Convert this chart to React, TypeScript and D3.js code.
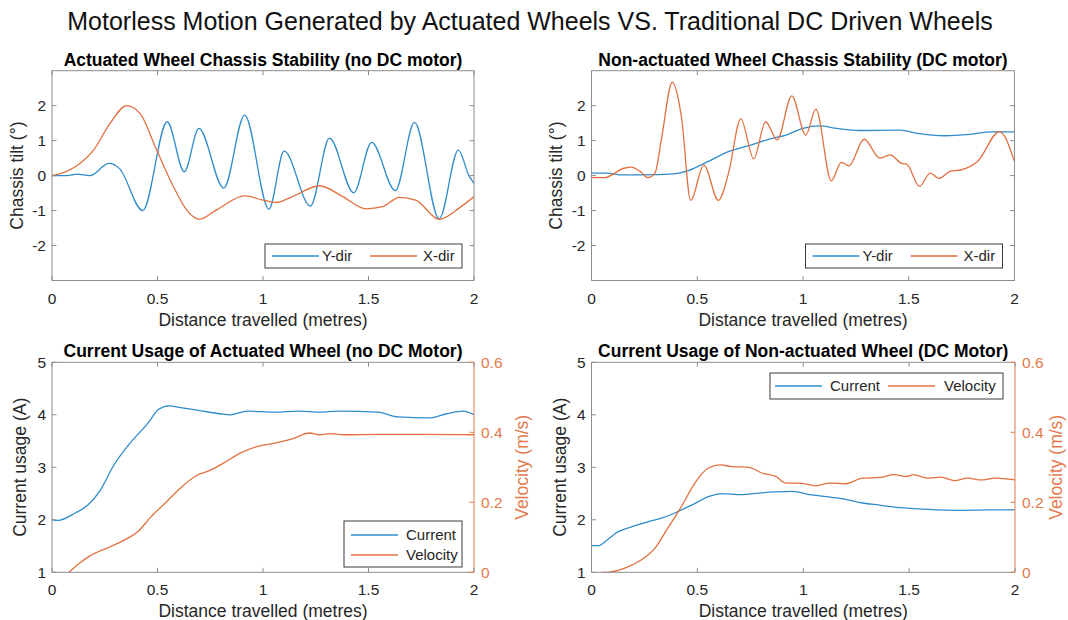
import React from 'react';
import * as d3 from 'd3';

// ---------- DATA ----------
const xTickValues = [0, 0.5, 1, 1.5, 2];
const xTickLabels = ['0', '0.5', '1', '1.5', '2'];
const tiltTicks = [-2, -1, 0, 1, 2];
const currentTicks = [1, 2, 3, 4, 5];
const velocityTicks = [0, 0.2, 0.4, 0.6];

// Panel 1: Actuated wheel chassis stability
const p1YDirDist = [0, 0.07, 0.12, 0.18, 0.27, 0.32, 0.43, 0.546, 0.627, 0.696, 0.814, 0.913, 1.028, 1.10, 1.225, 1.315, 1.43, 1.515, 1.627, 1.718, 1.835, 1.926, 1.976, 2.0];
const p1YDirTilt = [0, 0.0, 0.04, 0.0, 0.35, 0.2, -1.0, 1.54, 0.11, 1.35, -0.36, 1.73, -0.96, 0.70, -0.87, 1.07, -0.49, 0.95, -0.43, 1.52, -1.24, 0.73, 0.0, -0.22];
const p1XDirDist = [0, 0.134, 0.197, 0.276, 0.354, 0.417, 0.496, 0.575, 0.638, 0.698, 0.78, 0.913, 1.0, 1.063, 1.14, 1.268, 1.378, 1.488, 1.567, 1.646, 1.724, 1.835, 1.929, 2.0];
const p1XDirTilt = [0, 0.35, 0.73, 1.5, 2.0, 1.78, 0.73, -0.31, -0.98, -1.25, -0.98, -0.58, -0.7, -0.77, -0.6, -0.29, -0.6, -0.95, -0.89, -0.62, -0.7, -1.25, -0.93, -0.6];

// Panel 2: Non-actuated wheel chassis stability
const p2YDirDist = [0, 0.07, 0.15, 0.24, 0.39, 0.457, 0.55, 0.65, 0.74, 0.84, 0.92, 1.0, 1.08, 1.16, 1.27, 1.46, 1.54, 1.67, 1.79, 1.89, 2.0];
const p2YDirTilt = [0.07, 0.07, 0.02, 0.02, 0.05, 0.14, 0.4, 0.69, 0.85, 1.04, 1.16, 1.35, 1.42, 1.35, 1.29, 1.3, 1.21, 1.14, 1.18, 1.25, 1.25];
const p2XDirDist = [0, 0.06, 0.154, 0.186, 0.234, 0.266, 0.3, 0.33, 0.382, 0.425, 0.469, 0.531, 0.6, 0.648, 0.706, 0.767, 0.823, 0.878, 0.947, 1.013, 1.061, 1.134, 1.181, 1.217, 1.289, 1.363, 1.411, 1.467, 1.49, 1.551, 1.602, 1.642, 1.698, 1.745, 1.825, 1.929, 2.0];
const p2XDirTilt = [-0.06, -0.06, 0.21, 0.24, 0.1, -0.06, 0.07, 1.02, 2.67, 1.69, -0.71, 0.3, -0.71, 0.07, 1.62, 0.48, 1.54, 1.02, 2.28, 1.16, 1.9, -0.15, 0.38, 0.28, 1.04, 0.5, 0.59, 0.35, 0.33, -0.31, 0.07, -0.08, 0.13, 0.16, 0.4, 1.26, 0.4];

// Panel 3: Current usage of actuated wheel
const p3CurDist = [0, 0.03, 0.11, 0.17, 0.23, 0.29, 0.37, 0.455, 0.504, 0.553, 0.618, 0.7, 0.797, 0.845, 0.927, 1.057, 1.17, 1.27, 1.35, 1.545, 1.64, 1.79, 1.87, 1.95, 2.0];
const p3Current = [2.0, 1.99, 2.13, 2.28, 2.57, 3.02, 3.46, 3.84, 4.1, 4.17, 4.13, 4.08, 4.02, 4.0, 4.07, 4.05, 4.07, 4.05, 4.07, 4.05, 3.96, 3.94, 4.02, 4.07, 4.0];
const p3VelDist = [0.08, 0.13, 0.18, 0.276, 0.358, 0.406, 0.47, 0.537, 0.6, 0.683, 0.748, 0.813, 0.894, 0.976, 1.057, 1.138, 1.22, 1.268, 1.32, 1.382, 1.55, 1.75, 2.0];
const p3Velocity = [0, 0.026, 0.047, 0.073, 0.097, 0.116, 0.159, 0.198, 0.236, 0.276, 0.291, 0.312, 0.341, 0.36, 0.369, 0.381, 0.398, 0.393, 0.396, 0.393, 0.394, 0.394, 0.393];

// Panel 4: Current usage of non-actuated wheel
const p4CurDist = [0, 0.035, 0.075, 0.12, 0.186, 0.266, 0.33, 0.393, 0.473, 0.552, 0.616, 0.711, 0.79, 0.87, 0.95, 1.03, 1.11, 1.2, 1.28, 1.36, 1.46, 1.586, 1.745, 1.87, 2.0];
const p4Current = [1.51, 1.51, 1.62, 1.76, 1.86, 1.96, 2.03, 2.13, 2.28, 2.44, 2.5, 2.48, 2.51, 2.53, 2.54, 2.48, 2.44, 2.39, 2.32, 2.28, 2.23, 2.2, 2.18, 2.19, 2.19];
const p4VelDist = [0.05, 0.075, 0.154, 0.234, 0.3, 0.36, 0.425, 0.488, 0.552, 0.608, 0.663, 0.743, 0.807, 0.87, 0.918, 0.98, 1.06, 1.125, 1.2, 1.28, 1.364, 1.427, 1.49, 1.52, 1.586, 1.65, 1.714, 1.777, 1.84, 1.905, 2.0];
const p4Velocity = [0, 0, 0.011, 0.035, 0.069, 0.126, 0.188, 0.255, 0.298, 0.307, 0.302, 0.3, 0.283, 0.274, 0.255, 0.255, 0.247, 0.255, 0.253, 0.269, 0.271, 0.279, 0.274, 0.279, 0.269, 0.272, 0.262, 0.269, 0.264, 0.269, 0.264];

// ---------- STYLE ----------
const FONT = "'Liberation Sans', Arial, Helvetica, sans-serif";
const BLUE = '#2f8ccb';
const ORANGE = '#e2703f';
const ORANGE_AXIS = '#e27a4c';
const AXIS = '#8c8c8c';
const TXT = '#262626';
const TICK = 4.5;

type Series = { xs: number[]; ys: number[]; color: string; right?: boolean };
type Box = { l: number; r: number; t: number; b: number };
type LegendSpec = {
  x: number; y: number; w: number; h: number;
  items: { label: string; color: string; lx: number; ly: number; tx: number }[];
};

function Panel(props: {
  id: string; box: Box; title: string; yLabel: string; yLabelX: number;
  yDomain: [number, number]; yTicks: number[];
  series: Series[]; legend: LegendSpec;
  rightAxis?: { domain: [number, number]; ticks: number[]; label: string; labelX: number };
}) {
  const { id, box, title, yLabel, yLabelX, yDomain, yTicks, series, legend, rightAxis } = props;
  const { l, r, t, b } = box;
  const x = d3.scaleLinear().domain([0, 2]).range([l, r]);
  const y = d3.scaleLinear().domain(yDomain).range([b, t]);
  const yR = rightAxis ? d3.scaleLinear().domain(rightAxis.domain).range([b, t]) : null;
  const mk = (s: Series) => {
    const sc = s.right && yR ? yR : y;
    return d3.line<number>().x((_, i) => x(s.xs[i])).y((d) => sc(d)).curve(d3.curveMonotoneX)(s.ys) || '';
  };
  const cy = (t + b) / 2;
  return (
    <g>
      <defs>
        <clipPath id={id}>
          <rect x={l} y={t} width={r - l} height={b - t} />
        </clipPath>
      </defs>
      <rect x={l} y={t} width={r - l} height={b - t} fill="#fff" />
      <g clipPath={`url(#${id})`}>
        {series.map((s, i) => (
          <path key={i} d={mk(s)} fill="none" stroke={s.color} strokeWidth={1.3} strokeLinejoin="round" />
        ))}
      </g>
      <line x1={l} x2={r} y1={t} y2={t} stroke={AXIS} />
      <line x1={l} x2={r} y1={b} y2={b} stroke={AXIS} />
      <line x1={l} x2={l} y1={t} y2={b} stroke={AXIS} />
      <line x1={r} x2={r} y1={t} y2={b} stroke={rightAxis ? ORANGE_AXIS : AXIS} />
      {xTickValues.map((v, i) => (
        <g key={'x' + i}>
          <line x1={x(v)} x2={x(v)} y1={b} y2={b - TICK} stroke={AXIS} />
          <line x1={x(v)} x2={x(v)} y1={t} y2={t + TICK} stroke={AXIS} />
          <text x={x(v)} y={b + 23} textAnchor="middle" fontSize={15.5} fill={TXT}>{xTickLabels[i]}</text>
        </g>
      ))}
      {yTicks.map((v) => (
        <g key={'y' + v}>
          <line x1={l} x2={l + TICK} y1={y(v)} y2={y(v)} stroke={AXIS} />
          {!rightAxis && <line x1={r} x2={r - TICK} y1={y(v)} y2={y(v)} stroke={AXIS} />}
          <text x={l - 6} y={y(v) + 5.5} textAnchor="end" fontSize={15.5} fill={TXT}>{String(v)}</text>
        </g>
      ))}
      {rightAxis && yR && rightAxis.ticks.map((v) => (
        <g key={'r' + v}>
          <line x1={r} x2={r - TICK} y1={yR(v)} y2={yR(v)} stroke={ORANGE_AXIS} />
          <text x={r + 7} y={yR(v) + 5.5} textAnchor="start" fontSize={15.5} fill={ORANGE_AXIS}>{String(v)}</text>
        </g>
      ))}
      {rightAxis && (
        <text transform={`translate(${rightAxis.labelX},${cy}) rotate(-90)`} textAnchor="middle" fontSize={17.5} fill={ORANGE_AXIS}>
          {rightAxis.label}
        </text>
      )}
      <text x={(l + r) / 2} y={b + 45} textAnchor="middle" fontSize={17.5} fill={TXT}>Distance travelled (metres)</text>
      <text transform={`translate(${yLabelX},${cy}) rotate(-90)`} textAnchor="middle" fontSize={17.5} fill={TXT}>{yLabel}</text>
      <text x={(l + r) / 2} y={t - 5} textAnchor="middle" fontSize={17.5} fontWeight="bold" fill="#000">{title}</text>
      <g>
        <rect x={legend.x} y={legend.y} width={legend.w} height={legend.h} fill="#fff" stroke="#3a3a3a" strokeWidth={1} />
        {legend.items.map((it, i) => (
          <g key={i}>
            <line x1={legend.x + it.lx} x2={legend.x + it.lx + 47} y1={legend.y + it.ly} y2={legend.y + it.ly} stroke={it.color} strokeWidth={1.3} />
            <text x={legend.x + it.tx} y={legend.y + it.ly + 5} fontSize={15} fill={TXT}>{it.label}</text>
          </g>
        ))}
      </g>
    </g>
  );
}

export default function App() {
  const b1: Box = { l: 52, r: 474, t: 70.7, b: 280.5 };
  const b2: Box = { l: 591.5, r: 1014.5, t: 70.7, b: 280.5 };
  const b3: Box = { l: 52, r: 474, t: 362.3, b: 572.3 };
  const b4: Box = { l: 591.5, r: 1015, t: 362.3, b: 572.3 };
  const horizLegend = (bx: Box): LegendSpec => ({
    x: bx.r - 209, y: bx.b - 36.5, w: 197, h: 24,
    items: [
      { label: 'Y-dir', color: BLUE, lx: 7, ly: 12, tx: 57 },
      { label: 'X-dir', color: ORANGE, lx: 105, ly: 12, tx: 158 },
    ],
  });
  return (
    <svg width={1068} height={620} style={{ position: 'absolute', left: 0, top: 0, background: '#fff' }} fontFamily={FONT}>
      <rect x={0} y={0} width={1068} height={620} fill="#fff" />
      <text x={530} y={30} textAnchor="middle" fontSize={25} fill="#111">
        Motorless Motion Generated by Actuated Wheels VS. Traditional DC Driven Wheels
      </text>
      <Panel
        id="c1" box={b1} title="Actuated Wheel Chassis Stability (no DC motor)" yLabel="Chassis tilt (°)" yLabelX={23}
        yDomain={[-3, 3]} yTicks={tiltTicks}
        series={[
          { xs: p1YDirDist, ys: p1YDirTilt, color: BLUE },
          { xs: p1XDirDist, ys: p1XDirTilt, color: ORANGE },
        ]}
        legend={horizLegend(b1)}
      />
      <Panel
        id="c2" box={b2} title="Non-actuated Wheel Chassis Stability (DC motor)" yLabel="Chassis tilt (°)" yLabelX={562}
        yDomain={[-3, 3]} yTicks={tiltTicks}
        series={[
          { xs: p2YDirDist, ys: p2YDirTilt, color: BLUE },
          { xs: p2XDirDist, ys: p2XDirTilt, color: ORANGE },
        ]}
        legend={horizLegend(b2)}
      />
      <Panel
        id="c3" box={b3} title="Current Usage of Actuated Wheel (no DC Motor)" yLabel="Current usage (A)" yLabelX={26}
        yDomain={[1, 5]} yTicks={currentTicks}
        rightAxis={{ domain: [0, 0.6], ticks: velocityTicks, label: 'Velocity (m/s)', labelX: 528 }}
        series={[
          { xs: p3CurDist, ys: p3Current, color: BLUE },
          { xs: p3VelDist, ys: p3Velocity, color: ORANGE, right: true },
        ]}
        legend={{
          x: 344, y: 521, w: 118, h: 46,
          items: [
            { label: 'Current', color: BLUE, lx: 7, ly: 14, tx: 62 },
            { label: 'Velocity', color: ORANGE, lx: 7, ly: 34, tx: 62 },
          ],
        }}
      />
      <Panel
        id="c4" box={b4} title="Current Usage of Non-actuated Wheel (DC Motor)" yLabel="Current usage (A)" yLabelX={566}
        yDomain={[1, 5]} yTicks={currentTicks}
        rightAxis={{ domain: [0, 0.6], ticks: velocityTicks, label: 'Velocity (m/s)', labelX: 1062 }}
        series={[
          { xs: p4CurDist, ys: p4Current, color: BLUE },
          { xs: p4VelDist, ys: p4Velocity, color: ORANGE, right: true },
        ]}
        legend={{
          x: 770, y: 373, w: 233, h: 26,
          items: [
            { label: 'Current', color: BLUE, lx: 5, ly: 13, tx: 60 },
            { label: 'Velocity', color: ORANGE, lx: 118, ly: 13, tx: 174 },
          ],
        }}
      />
    </svg>
  );
}
